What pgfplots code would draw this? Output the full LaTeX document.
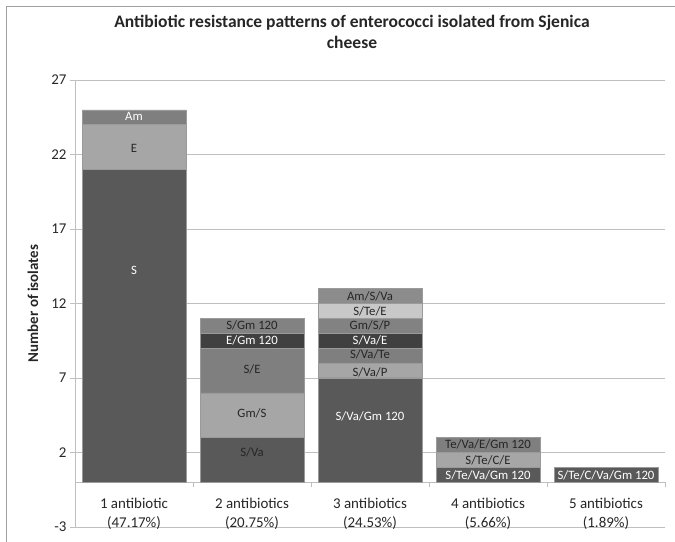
\documentclass[border=0pt]{standalone}
\usepackage{pgfplots}
\pgfplotsset{compat=1.18}
\usepackage{fontspec}
\setmainfont{Carlito}
\definecolor{cA}{HTML}{595959}
\definecolor{cB}{HTML}{A6A6A6}
\definecolor{cC}{HTML}{7F7F7F}
\definecolor{cD}{HTML}{404040}
\definecolor{cE}{HTML}{828282}
\definecolor{cF}{HTML}{C8C8C8}
\definecolor{cG}{HTML}{8C8C8C}
\definecolor{gridgray}{HTML}{BFBFBF}
\definecolor{framegray}{HTML}{A0A0A0}
\definecolor{txt}{HTML}{262626}
\definecolor{barline}{HTML}{9A9A9A}
\begin{document}
\begin{tikzpicture}[x=1bp,y=1bp]
\useasboundingbox (0,0) rectangle (675,542);
\draw[color=framegray, line width=1.2bp] (6.5,0) -- (6.5,535.5) -- (675,535.5);
\begin{axis}[
  at={(75bp,15bp)}, anchor=south west,
  scale only axis, width=590bp, height=447bp,
  xmin=-0.5, xmax=4.5, ymin=-3, ymax=27,
  ybar stacked, bar width=0.88,
  axis x line=middle, axis y line=left,
  x axis line style={-, draw=gridgray, line width=0.8bp},
  y axis line style={-, draw=gridgray, line width=0.8bp},
  xtick={0,1,2,3,4},
  xticklabels={{1 antibiotic\\(47.17\%)},{2 antibiotics\\(20.75\%)},{3 antibiotics\\(24.53\%)},{4 antibiotics\\(5.66\%)},{5 antibiotics\\(1.89\%)}},
  xticklabel style={align=center, font=\fontsize{15}{19.5}\selectfont, text=txt, yshift=-7bp},
  major x tick style={draw=none},
  minor xtick={-0.5,0.5,1.5,2.5,3.5,4.5},
  minor x tick style={draw=gridgray, line width=0.8bp},
  minor tick length=5bp,
  xtick align=outside,
  ytick={-3,2,7,12,17,22,27},
  ytick align=outside,
  major tick length=5bp,
  major y tick style={draw=gridgray, line width=0.8bp},
  yticklabel style={font=\fontsize{15}{17}\selectfont, text=txt},
  /pgf/number format/assume math mode=true,
  ymajorgrids, grid style={draw=gridgray, line width=0.8bp},
  title={Antibiotic resistance patterns of enterococci isolated from Sjenica\\cheese},
  title style={align=center, font=\bfseries\fontsize{17.6}{21}\selectfont, text=txt, at={(0.4695,1)}, anchor=north, yshift=59bp, inner sep=0pt},
  ylabel={Number of isolates},
  ylabel style={at={(axis description cs:-0.0712,0.5)}, anchor=center, font=\bfseries\fontsize{15}{17}\selectfont, text=txt},
  every axis plot/.append style={draw=barline, line width=0.5bp},
]
\addplot[fill=cA] coordinates {(0,21) (1,3) (2,7) (3,1) (4,1)};
\addplot[fill=cB] coordinates {(0,3) (1,3) (2,1) (3,1) (4,0)};
\addplot[fill=cC] coordinates {(0,1) (1,3) (2,1) (3,1) (4,0)};
\addplot[fill=cD] coordinates {(0,0) (1,1) (2,1) (3,0) (4,0)};
\addplot[fill=cE] coordinates {(0,0) (1,1) (2,1) (3,0) (4,0)};
\addplot[fill=cF] coordinates {(0,0) (1,0) (2,1) (3,0) (4,0)};
\addplot[fill=cG] coordinates {(0,0) (1,0) (2,1) (3,0) (4,0)};
\end{axis}
\begin{axis}[
  at={(75bp,15bp)}, anchor=south west,
  scale only axis, width=590bp, height=447bp,
  xmin=-0.5, xmax=4.5, ymin=-3, ymax=27,
  hide axis, clip=false,
]
\addplot[only marks, mark=none, nodes near coords, point meta=explicit symbolic,
  nodes near coords align=center,
  every node near coord/.append style={anchor=center, inner sep=0pt, text=white, font=\fontsize{12.8}{14}\selectfont}]
  table[col sep=comma, row sep=\\, meta=label] {
x,y,label\\
0,24.55,Am\\
0,14.2,S\\
1,9.5,E/Gm 120\\
2,9.5,S/Va/E\\
2,4.4,S/Va/Gm 120\\
3,0.5,S/Te/Va/Gm 120\\
4,0.5,S/Te/C/Va/Gm 120\\
};
\addplot[only marks, mark=none, nodes near coords, point meta=explicit symbolic,
  nodes near coords align=center,
  every node near coord/.append style={anchor=center, inner sep=0pt, text=txt, font=\fontsize{12.8}{14}\selectfont}]
  table[col sep=comma, row sep=\\, meta=label] {
x,y,label\\
0,22.4,E\\
1,10.5,S/Gm 120\\
1,7.6,S/E\\
1,4.6,Gm/S\\
1,2.0,S/Va\\
2,12.5,Am/S/Va\\
2,11.5,S/Te/E\\
2,10.55,Gm/S/P\\
2,8.6,S/Va/Te\\
2,7.4,S/Va/P\\
3,2.55,Te/Va/E/Gm 120\\
3,1.5,S/Te/C/E\\
};
\end{axis}
\end{tikzpicture}
\end{document}
